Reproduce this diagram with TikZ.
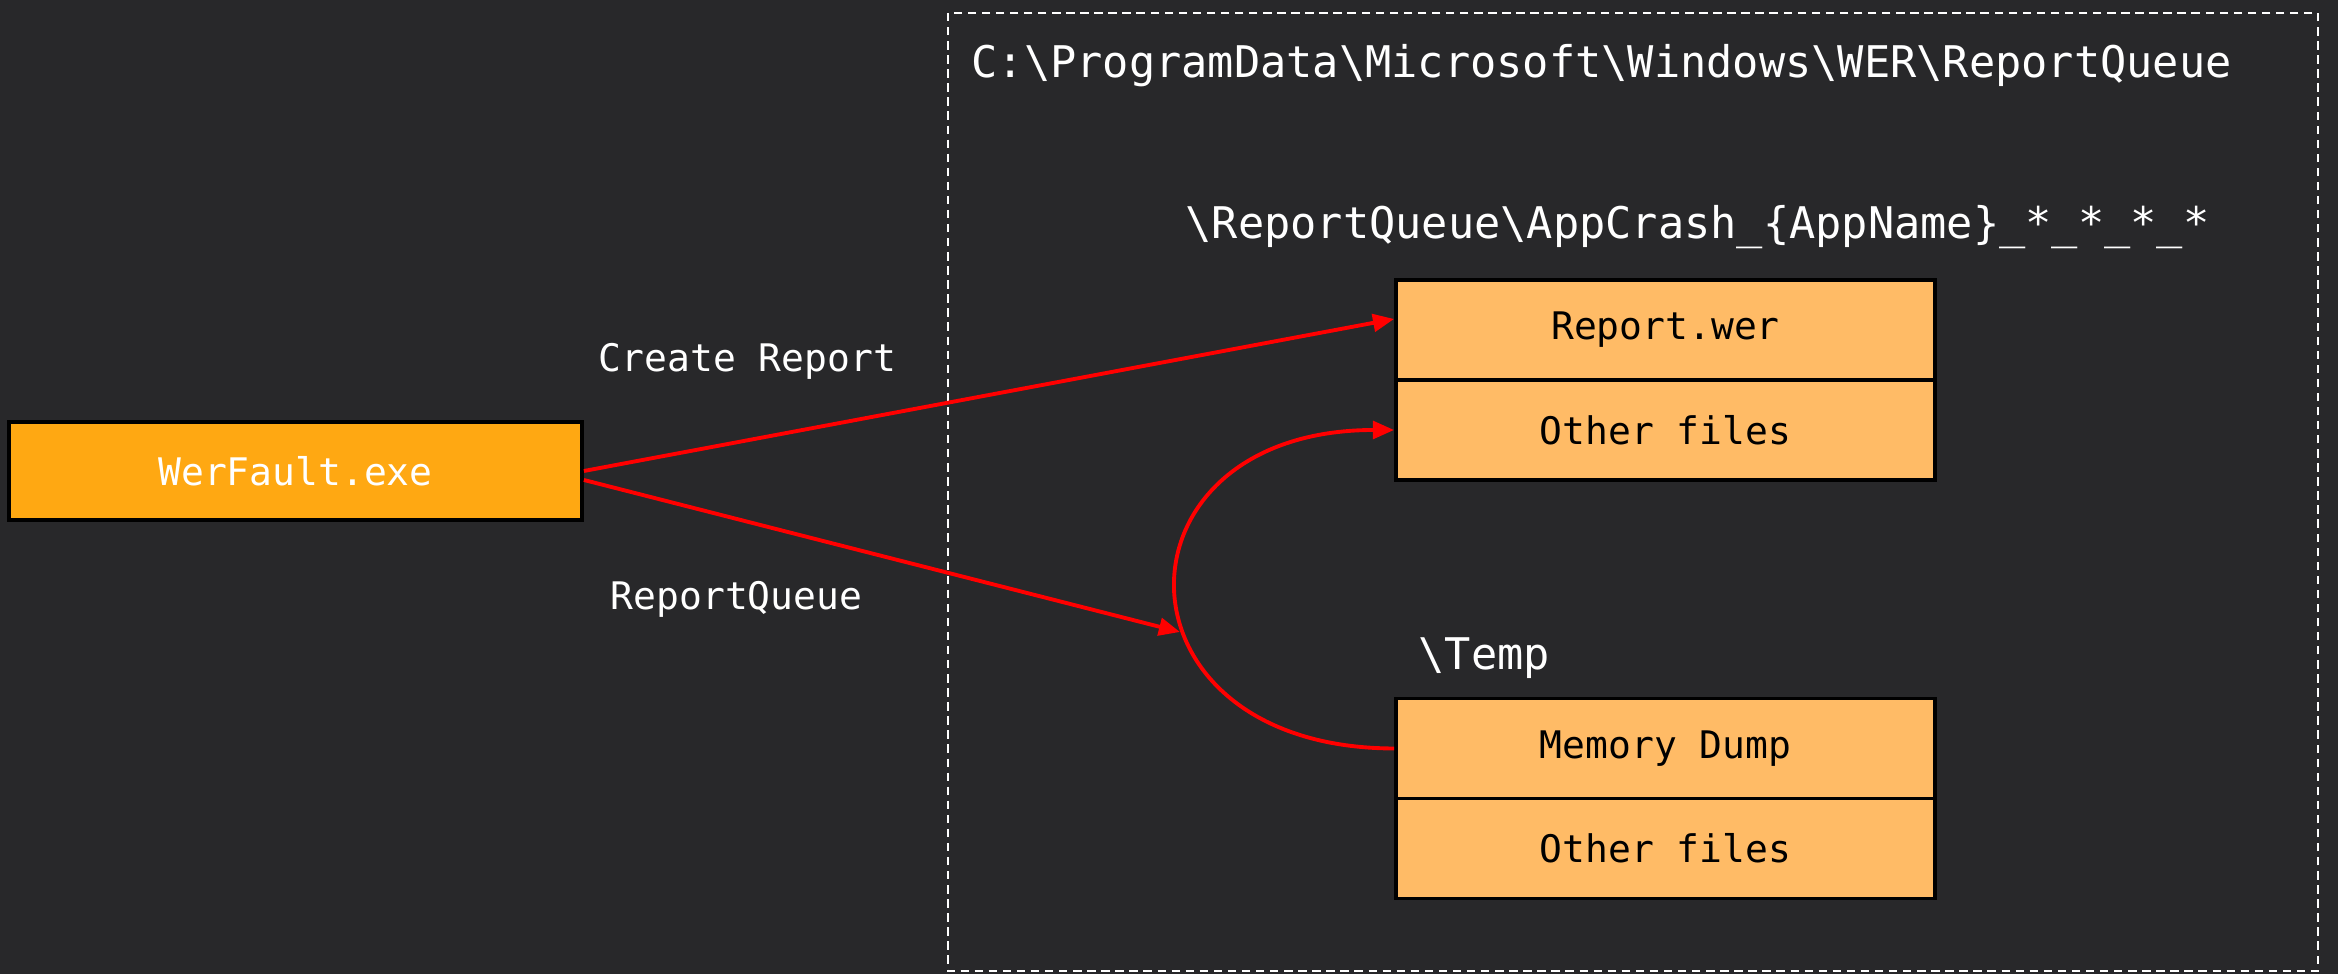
\documentclass[tikz,border=0pt]{standalone}
\usepackage{fontspec}
\setmonofont{DejaVu Sans Mono}
\usetikzlibrary{arrows.meta}
\definecolor{bgdark}{RGB}{40,40,42}
\definecolor{werorange}{RGB}{255,168,18}
\definecolor{filebox}{RGB}{255,187,102}
\newcommand{\bigtxt}{\ttfamily\fontsize{12.4}{15}\selectfont}
\newcommand{\smalltxt}{\ttfamily\fontsize{10.8}{13}\selectfont}
\tikzset{
  label/.style={text=white,inner sep=0pt,anchor=west},
  filecell/.style={draw=black,line width=1pt,fill=filebox,minimum width=5.39cm,minimum height=1.0cm,inner sep=0pt,font=\smalltxt},
  flow/.style={red,line width=1.1pt,-{Triangle[length=6pt,width=5pt]}}
}
\begin{document}
\begin{tikzpicture}[x=0.01cm,y=-0.01cm]
\fill[bgdark] (0,0) rectangle (2338,974);
\useasboundingbox (0,0) rectangle (2338,974);
\draw[white,line width=0.7pt,dash pattern=on 2.4pt off 1.6pt] (948,13) rectangle (2318,971);
\node[label,font=\bigtxt] (path) at (971,66) {C:\textbackslash ProgramData\textbackslash Microsoft\textbackslash Windows\textbackslash WER\textbackslash ReportQueue};
\node[label,font=\bigtxt] (crash) at (1185,227) {\textbackslash ReportQueue\textbackslash AppCrash\_\{AppName\}\_*\_*\_*\_*};
\node[label,font=\bigtxt] (temp) at (1418,658) {\textbackslash Temp};
\node[label,font=\smalltxt] (create) at (598,361) {Create Report};
\node[label,font=\smalltxt] (rq) at (610,599) {ReportQueue};
\node[draw=black,line width=1pt,fill=werorange,text=white,minimum width=5.73cm,minimum height=0.98cm,inner sep=0pt,font=\smalltxt] (wer) at (295.5,471) {WerFault.exe};
\node[filecell] (rep) at (1665.5,330) {Report.wer};
\node[filecell] (oth1) at (1665.5,430) {Other files};
\node[filecell] (dump) at (1665.5,748.5) {Memory Dump};
\node[filecell] (oth2) at (1665.5,848.5) {Other files};
\coordinate (hit) at (1180,632);
\draw[flow] (wer.east) -- ([yshift=0.11cm]rep.west);
\draw[flow] ([yshift=-0.09cm]wer.east) -- (hit);
\draw[flow] (dump.west) .. controls (1104,748) and (1104,430) .. (oth1.west);
\end{tikzpicture}
\end{document}
